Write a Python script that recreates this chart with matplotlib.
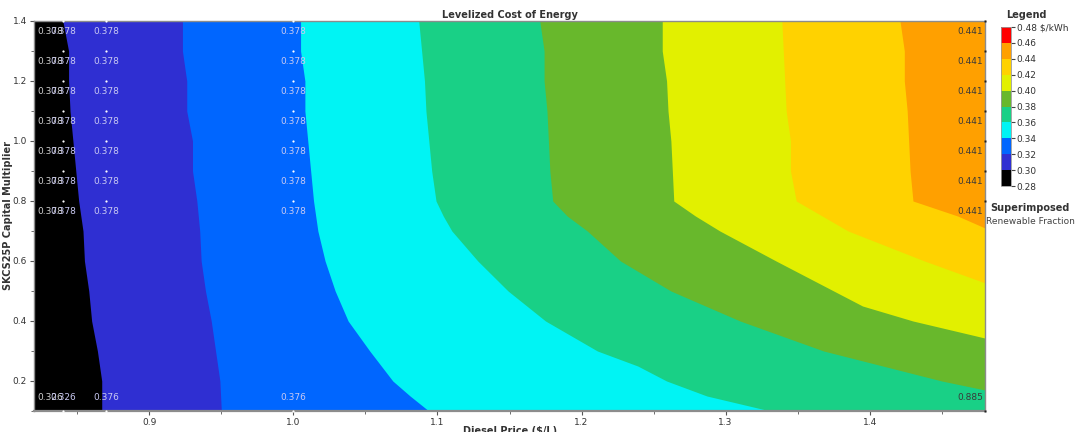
import matplotlib
matplotlib.use("Agg")
import matplotlib.pyplot as plt
import matplotlib.cm as cm
from matplotlib.colors import ListedColormap, BoundaryNorm

# LCOE bands ($/kWh) and their colours
levels = [0.28, 0.30, 0.32, 0.34, 0.36, 0.38, 0.40, 0.42, 0.44, 0.46, 0.48]
level_colors = ["#000000", "#2f2fd2", "#0066ff", "#00f4f4", "#19d086",
                "#68b82c", "#e2f000", "#ffd200", "#ffa000", "#ff0000"]

# band boundaries: capital multiplier (y) -> diesel price (x)
b030_y = [1.4, 1.3, 1.2, 1.1, 1.0, 0.9, 0.8, 0.7, 0.6, 0.5, 0.4, 0.3, 0.2, 0.1]
b030_x = [0.840, 0.844, 0.844, 0.845, 0.847, 0.849, 0.851, 0.854, 0.855, 0.858, 0.860, 0.864, 0.867, 0.867]

b032_y = [1.4, 1.3, 1.2, 1.1, 1.0, 0.9, 0.8, 0.7, 0.6, 0.5, 0.4, 0.3, 0.2, 0.1]
b032_x = [0.923, 0.923, 0.926, 0.926, 0.930, 0.930, 0.933, 0.935, 0.936, 0.939, 0.943, 0.946, 0.949, 0.950]

b034_y = [1.4, 1.3, 1.2, 1.1, 1.0, 0.9, 0.8, 0.7, 0.6, 0.5, 0.4, 0.3, 0.2, 0.15, 0.1]
b034_x = [1.005, 1.005, 1.008, 1.008, 1.010, 1.012, 1.014, 1.017, 1.022, 1.029, 1.038, 1.053, 1.069, 1.081, 1.094]

b036_y = [1.4, 1.3, 1.2, 1.1, 1.0, 0.9, 0.8, 0.75, 0.7, 0.6, 0.5, 0.4, 0.3, 0.25, 0.2, 0.15, 0.1]
b036_x = [1.087, 1.089, 1.091, 1.092, 1.094, 1.096, 1.099, 1.104, 1.110, 1.128, 1.149, 1.175, 1.211, 1.239,
          1.259, 1.287, 1.331]

b038_y = [1.4, 1.3, 1.2, 1.1, 1.0, 0.9, 0.8, 0.75, 0.7, 0.6, 0.5, 0.4, 0.3, 0.25, 0.2, 0.17]
b038_x = [1.171, 1.174, 1.174, 1.176, 1.177, 1.178, 1.180, 1.190, 1.204, 1.227, 1.262, 1.310, 1.368, 1.409,
          1.450, 1.480]

b040_y = [1.4, 1.3, 1.2, 1.1, 1.0, 0.9, 0.8, 0.75, 0.7, 0.6, 0.5, 0.45, 0.4, 0.35, 0.343]
b040_x = [1.256, 1.256, 1.259, 1.260, 1.262, 1.263, 1.264, 1.279, 1.296, 1.335, 1.375, 1.395, 1.430, 1.474,
          1.480]

b042_y = [1.4, 1.3, 1.2, 1.1, 1.0, 0.9, 0.8, 0.75, 0.7, 0.6, 0.527]
b042_x = [1.339, 1.340, 1.341, 1.342, 1.345, 1.345, 1.349, 1.367, 1.385, 1.438, 1.480]

b044_y = [1.4, 1.3, 1.2, 1.1, 1.0, 0.9, 0.8, 0.75, 0.71]
b044_x = [1.421, 1.424, 1.424, 1.426, 1.427, 1.428, 1.430, 1.461, 1.480]

bounds = [(b030_y, b030_x), (b032_y, b032_x), (b034_y, b034_x), (b036_y, b036_x),
          (b038_y, b038_x), (b040_y, b040_x), (b042_y, b042_x), (b044_y, b044_x)]

# superimposed renewable fraction
sup_x = [0.82, 0.84, 0.87, 1.0, 1.48]
sup_y = [1.4, 1.3, 1.2, 1.1, 1.0, 0.9, 0.8, 0.1]
sup_labels = [["0.378", "0.378", "0.378", "0.378", "0.441"]] * 7 + \
             [["0.326", "0.326", "0.376", "0.376", "0.885"]]

x_min, x_max = 0.82, 1.48
y_min, y_max = 0.1, 1.4

fig = plt.figure(figsize=(10.75, 4.32), dpi=100)
ax = fig.add_axes([34 / 1075, 21 / 432, 951 / 1075, 390 / 432])
ax.set_facecolor(level_colors[0])

# each band is painted from its lower boundary out to the right edge
for k, (by, bx) in enumerate(bounds):
    ax.fill_betweenx(by, bx, x_max, color=level_colors[k + 1], lw=0, antialiased=False)

ax.set_xlim(x_min, x_max)
ax.set_ylim(y_min, y_max)

# superimposed points and labels
for i, yv in enumerate(sup_y):
    for j, xv in enumerate(sup_x):
        if j == 0:
            ha, dx = "left", 3
        elif j == len(sup_x) - 1:
            ha, dx = "right", -2
        else:
            ha, dx = "center", 0
        dy = 13 if yv == y_min else -11
        col = "#3a3a3a" if j == len(sup_x) - 1 else "#c9c9f2"
        if j == 0:
            col = "#d0d0d0"
        if 0 < j < len(sup_x) - 1:
            ax.plot(xv, yv, "o", ms=1.6, color="white", mec="none", clip_on=False, zorder=5)
        elif j == len(sup_x) - 1:
            ax.plot(xv, yv, "s", ms=1.6, color="#202020", mec="none", clip_on=False, zorder=5)
        ax.annotate(sup_labels[i][j], (xv, yv), xytext=(dx, dy), textcoords="offset pixels",
                    ha=ha, va="center", fontsize=6.5, color=col, zorder=6)

ax.set_xticks([0.9, 1.0, 1.1, 1.2, 1.3, 1.4])
ax.set_xticklabels(["0.9", "1.0", "1.1", "1.2", "1.3", "1.4"])
ax.set_xticks([0.85, 0.95, 1.05, 1.15, 1.25, 1.35, 1.45], minor=True)
ax.set_yticks([0.2, 0.4, 0.6, 0.8, 1.0, 1.2, 1.4])
ax.set_yticklabels(["0.2", "0.4", "0.6", "0.8", "1.0", "1.2", "1.4"])
ax.set_yticks([0.1, 0.3, 0.5, 0.7, 0.9, 1.1, 1.3], minor=True)
ax.tick_params(which="both", labelsize=6.5, colors="#555555", labelcolor="#333333", pad=2)
ax.tick_params(which="major", length=3)
ax.tick_params(which="minor", length=2)
for s in ax.spines.values():
    s.set_color("#8c8c8c")
    s.set_linewidth(1.0)
ax.spines["bottom"].set_linewidth(1.6)

ax.set_title("Levelized Cost of Energy", fontsize=7, fontweight="bold", color="#333333", pad=2)
ax.set_ylabel("SKCS25P Capital Multiplier", fontsize=7, fontweight="bold", color="#333333",
              va="center")
ax.yaxis.set_label_coords(-26 / 951, 0.5)
fig.text(510 / 1075, 1 / 432, "Diesel Price ($/L)", fontsize=7, fontweight="bold",
         color="#333333", ha="center", va="center")

# legend colour bar
cax = fig.add_axes([1001 / 1075, (432 - 186) / 432, 10 / 1075, 159 / 432])
cmap = ListedColormap(level_colors)
norm = BoundaryNorm(levels, cmap.N)
cb = fig.colorbar(cm.ScalarMappable(norm=norm, cmap=cmap), cax=cax, ticks=levels)
cb.ax.set_yticklabels(["%.2f" % v for v in levels[:-1]] + ["0.48 $/kWh"])
cb.ax.tick_params(labelsize=6.5, length=3, width=0.8, pad=1, colors="#444444", labelcolor="#333333")
cb.outline.set_edgecolor("#999999")
cb.outline.set_linewidth(0.6)

fig.text(1026 / 1075, 1 - 15 / 432, "Legend", fontsize=7, fontweight="bold", color="#333333",
         ha="center", va="center")
fig.text(1030 / 1075, 1 - 208 / 432, "Superimposed", fontsize=7, fontweight="bold", color="#333333",
         ha="center", va="center")
fig.text(1030 / 1075, 1 - 221 / 432, "Renewable Fraction", fontsize=6.5, color="#444444",
         ha="center", va="center")

fig.savefig("out.png", dpi=100)
